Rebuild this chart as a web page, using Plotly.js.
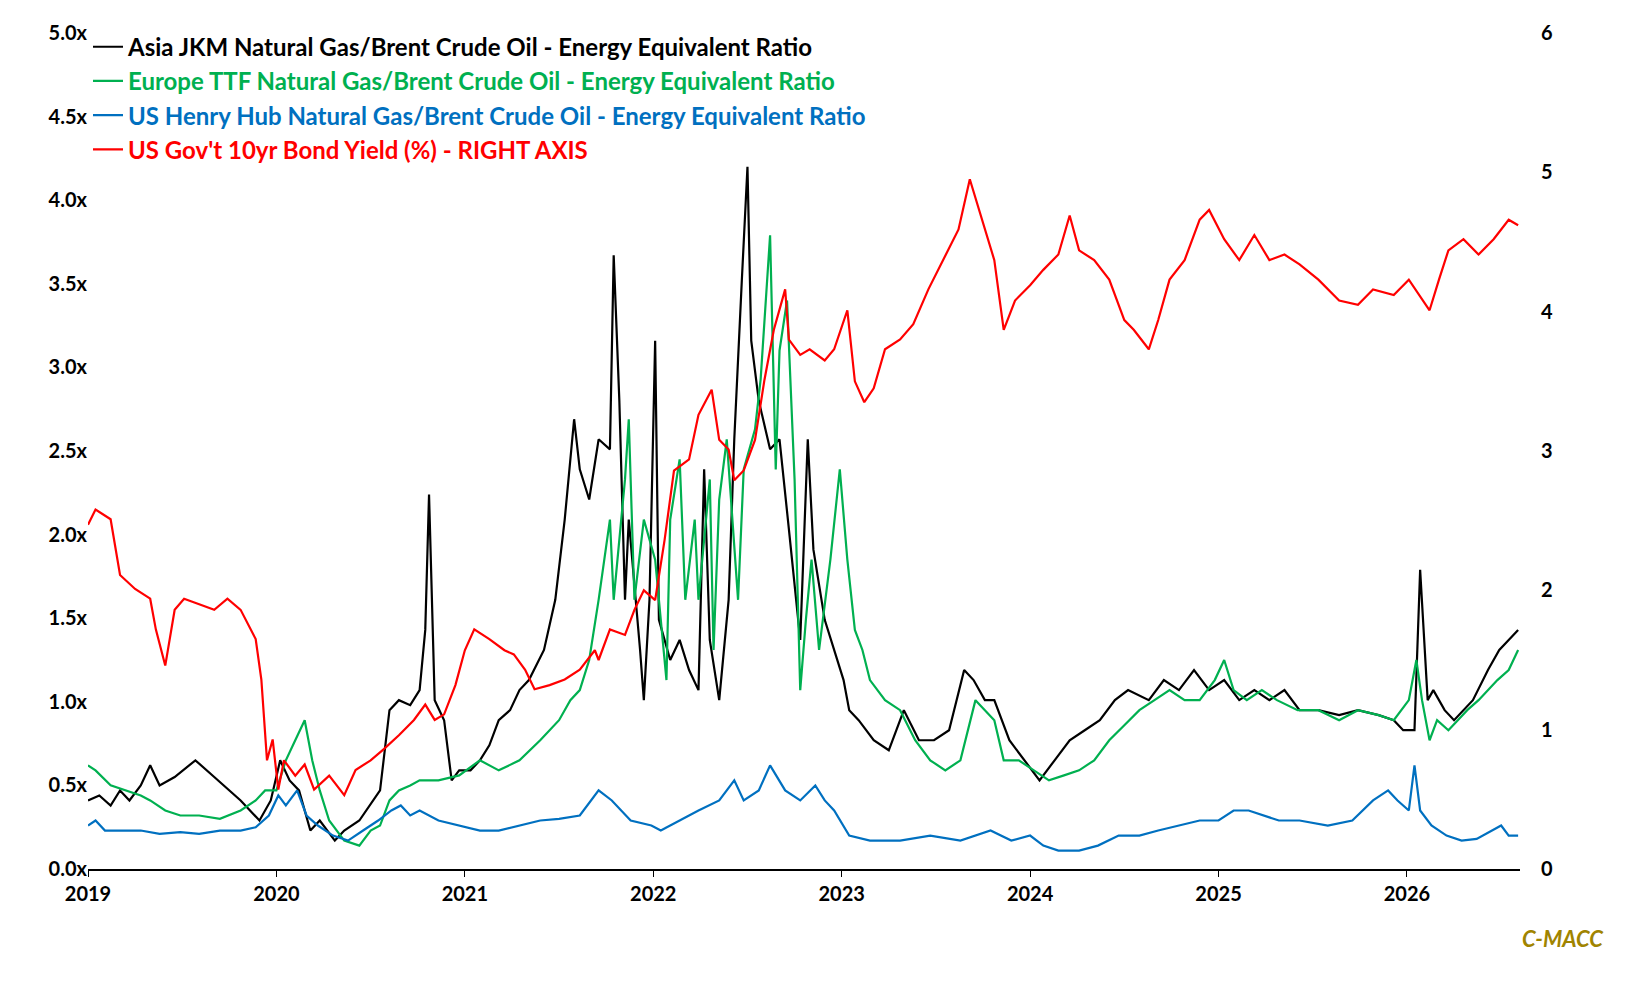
<!DOCTYPE html>
<html>
<head>
<meta charset="utf-8">
<script src="https://cdn.plot.ly/plotly-3.0.1.min.js"></script>
<style>body{margin:0;background:#fff}#chart{width:1642px;height:995px}</style>
</head>
<body>
<div id="chart"></div>
<script>
// decimal years and values
const jkmYears = [2019.00,2019.06,2019.12,2019.17,2019.22,2019.28,2019.33,2019.38,2019.46,2019.57,2019.67,2019.81,2019.91,2019.97,2020.02,2020.07,2020.12,2020.18,2020.23,2020.31,2020.36,2020.44,2020.55,2020.60,2020.65,2020.71,2020.76,2020.79,2020.81,2020.84,2020.89,2020.93,2020.97,2021.03,2021.08,2021.13,2021.18,2021.24,2021.29,2021.34,2021.42,2021.48,2021.53,2021.58,2021.61,2021.66,2021.71,2021.77,2021.79,2021.82,2021.85,2021.87,2021.93,2021.95,2021.98,2022.01,2022.03,2022.09,2022.14,2022.19,2022.24,2022.27,2022.30,2022.35,2022.40,2022.43,2022.47,2022.50,2022.52,2022.56,2022.62,2022.67,2022.72,2022.78,2022.82,2022.85,2022.91,2022.96,2023.01,2023.04,2023.09,2023.17,2023.25,2023.33,2023.41,2023.49,2023.57,2023.65,2023.70,2023.76,2023.81,2023.89,2023.97,2024.05,2024.13,2024.21,2024.29,2024.37,2024.45,2024.52,2024.63,2024.71,2024.79,2024.87,2024.95,2025.03,2025.11,2025.19,2025.27,2025.35,2025.43,2025.53,2025.64,2025.74,2025.85,2025.93,2025.98,2026.04,2026.07,2026.11,2026.14,2026.20,2026.25,2026.30,2026.35,2026.43,2026.49,2026.54,2026.59];
const jkmVals = [.41,.44,.38,.47,.41,.50,.62,.50,.55,.65,.55,.41,.29,.41,.65,.53,.47,.23,.29,.17,.23,.29,.47,.95,1.01,.98,1.07,1.43,2.24,1.01,.89,.53,.59,.59,.65,.74,.89,.95,1.07,1.13,1.31,1.61,2.09,2.69,2.39,2.21,2.57,2.51,3.67,2.80,1.61,2.09,1.31,1.01,1.61,3.16,1.49,1.25,1.37,1.19,1.07,2.39,1.37,1.01,1.61,2.57,3.52,4.20,3.16,2.80,2.51,2.57,2.03,1.37,2.57,1.91,1.49,1.31,1.13,.95,.89,.77,.71,.95,.77,.77,.83,1.19,1.13,1.01,1.01,.77,.65,.53,.65,.77,.83,.89,1.01,1.07,1.01,1.13,1.07,1.19,1.07,1.13,1.01,1.07,1.01,1.07,.95,.95,.92,.95,.92,.89,.83,.83,1.79,1.01,1.07,.95,.89,.95,1.01,1.19,1.31,1.37,1.43];

const ttfYears = [2019.00,2019.04,2019.12,2019.20,2019.28,2019.33,2019.41,2019.49,2019.59,2019.70,2019.81,2019.89,2019.94,2020.00,2020.05,2020.10,2020.15,2020.19,2020.23,2020.28,2020.36,2020.44,2020.50,2020.55,2020.60,2020.65,2020.71,2020.76,2020.86,2020.97,2021.08,2021.18,2021.29,2021.40,2021.50,2021.56,2021.61,2021.66,2021.71,2021.77,2021.79,2021.85,2021.87,2021.90,2021.95,2022.01,2022.04,2022.07,2022.09,2022.14,2022.17,2022.22,2022.24,2022.30,2022.32,2022.35,2022.39,2022.45,2022.48,2022.54,2022.57,2022.62,2022.65,2022.67,2022.71,2022.75,2022.78,2022.81,2022.84,2022.88,2022.94,2022.99,2023.03,2023.07,2023.11,2023.15,2023.23,2023.31,2023.39,2023.47,2023.55,2023.63,2023.71,2023.76,2023.81,2023.86,2023.94,2024.02,2024.10,2024.18,2024.26,2024.34,2024.42,2024.50,2024.58,2024.66,2024.74,2024.82,2024.90,2024.98,2025.03,2025.08,2025.15,2025.23,2025.31,2025.42,2025.53,2025.64,2025.74,2025.85,2025.93,2026.01,2026.05,2026.08,2026.12,2026.16,2026.22,2026.27,2026.32,2026.38,2026.43,2026.48,2026.54,2026.59];
const ttfVals = [.62,.59,.50,.47,.44,.41,.35,.32,.32,.30,.35,.41,.47,.47,.65,.77,.89,.65,.47,.29,.17,.14,.23,.26,.41,.47,.50,.53,.53,.56,.65,.59,.65,.77,.89,1.01,1.07,1.25,1.61,2.09,1.61,2.33,2.69,1.61,2.09,1.85,1.49,1.13,2.09,2.45,1.61,2.09,1.61,2.33,1.31,2.21,2.57,1.61,2.39,2.63,2.93,3.79,2.39,3.10,3.40,2.33,1.07,1.49,1.85,1.31,1.85,2.39,1.85,1.43,1.31,1.13,1.01,.95,.77,.65,.59,.65,1.01,.95,.89,.65,.65,.59,.53,.56,.59,.65,.77,.86,.95,1.01,1.07,1.01,1.01,1.13,1.25,1.07,1.01,1.07,1.01,.95,.95,.89,.95,.92,.89,1.01,1.25,1.01,.77,.89,.83,.89,.95,1.01,1.07,1.13,1.19,1.31];

const hhYears = [2019.00,2019.04,2019.09,2019.17,2019.28,2019.38,2019.49,2019.59,2019.70,2019.81,2019.89,2019.96,2020.01,2020.05,2020.11,2020.16,2020.22,2020.30,2020.38,2020.46,2020.54,2020.61,2020.66,2020.71,2020.76,2020.86,2020.97,2021.08,2021.18,2021.29,2021.40,2021.50,2021.61,2021.71,2021.78,2021.88,2021.99,2022.04,2022.14,2022.24,2022.35,2022.43,2022.48,2022.56,2022.62,2022.70,2022.78,2022.86,2022.91,2022.96,2023.04,2023.15,2023.31,2023.47,2023.63,2023.79,2023.90,2024.00,2024.07,2024.15,2024.26,2024.36,2024.47,2024.58,2024.68,2024.79,2024.90,2025.00,2025.08,2025.16,2025.24,2025.32,2025.43,2025.58,2025.71,2025.82,2025.90,2025.95,2026.01,2026.04,2026.07,2026.13,2026.21,2026.29,2026.37,2026.45,2026.50,2026.54,2026.59];
const hhVals = [.26,.29,.23,.23,.23,.21,.22,.21,.23,.23,.25,.32,.44,.38,.47,.32,.26,.20,.17,.23,.29,.35,.38,.32,.35,.29,.26,.23,.23,.26,.29,.30,.32,.47,.41,.29,.26,.23,.29,.35,.41,.53,.41,.47,.62,.47,.41,.50,.41,.35,.20,.17,.17,.20,.17,.23,.17,.20,.14,.11,.11,.14,.20,.20,.23,.26,.29,.29,.35,.35,.32,.29,.29,.26,.29,.41,.47,.41,.35,.62,.35,.26,.20,.17,.18,.23,.26,.20,.20];

const ustYears = [2019.00,2019.04,2019.12,2019.17,2019.25,2019.33,2019.36,2019.41,2019.46,2019.51,2019.59,2019.67,2019.74,2019.81,2019.89,2019.92,2019.95,2019.98,2020.01,2020.04,2020.10,2020.15,2020.20,2020.28,2020.36,2020.42,2020.50,2020.57,2020.65,2020.73,2020.79,2020.84,2020.89,2020.95,2021.00,2021.05,2021.13,2021.21,2021.26,2021.32,2021.37,2021.45,2021.53,2021.61,2021.69,2021.71,2021.77,2021.85,2021.90,2021.95,2022.01,2022.06,2022.11,2022.19,2022.24,2022.31,2022.35,2022.40,2022.43,2022.48,2022.54,2022.59,2022.64,2022.70,2022.72,2022.78,2022.83,2022.91,2022.96,2023.03,2023.07,2023.12,2023.17,2023.23,2023.31,2023.38,2023.46,2023.54,2023.62,2023.68,2023.76,2023.81,2023.86,2023.92,2024.00,2024.07,2024.15,2024.21,2024.26,2024.34,2024.42,2024.50,2024.55,2024.63,2024.68,2024.74,2024.82,2024.90,2024.95,2025.03,2025.11,2025.19,2025.27,2025.35,2025.43,2025.53,2025.64,2025.74,2025.82,2025.93,2026.01,2026.12,2026.17,2026.22,2026.30,2026.38,2026.46,2026.54,2026.59];
const ustVals = [2.47,2.58,2.51,2.11,2.01,1.94,1.72,1.46,1.86,1.94,1.90,1.86,1.94,1.86,1.65,1.36,0.78,0.93,0.57,0.78,0.67,0.75,0.57,0.67,0.53,0.71,0.78,0.86,0.96,1.07,1.18,1.07,1.11,1.32,1.57,1.72,1.65,1.57,1.54,1.43,1.29,1.32,1.36,1.43,1.57,1.50,1.72,1.68,1.86,2.00,1.93,2.36,2.86,2.94,3.26,3.44,3.08,3.01,2.79,2.86,3.08,3.51,3.87,4.16,3.80,3.69,3.73,3.65,3.73,4.01,3.50,3.35,3.45,3.73,3.80,3.91,4.16,4.37,4.59,4.95,4.59,4.37,3.87,4.08,4.19,4.30,4.41,4.69,4.44,4.37,4.23,3.94,3.87,3.73,3.94,4.23,4.37,4.66,4.73,4.52,4.37,4.55,4.37,4.41,4.34,4.23,4.08,4.05,4.16,4.12,4.23,4.01,4.23,4.44,4.52,4.41,4.52,4.66,4.62];

const years = [2019,2020,2021,2022,2023,2024,2025,2026];

const fontFam = "Lato, 'Liberation Sans', sans-serif";
const tickFont = {size: 20, family: fontFam, weight: "bold", color: "#000"};

function label(text, color) {
    return `<span style="color:${color}"><b>${text}</b></span>`;
}

const traces = [
    {x: jkmYears, y: jkmVals, type: "scatter", mode: "lines", line: {color: "#000000", width: 2.2},
     name: label("Asia JKM Natural Gas/Brent Crude Oil - Energy Equivalent Ratio", "#000000")},
    {x: ttfYears, y: ttfVals, type: "scatter", mode: "lines", line: {color: "#00b050", width: 2.2},
     name: label("Europe TTF Natural Gas/Brent Crude Oil - Energy Equivalent Ratio", "#00b050")},
    {x: hhYears, y: hhVals, type: "scatter", mode: "lines", line: {color: "#0070c0", width: 2.2},
     name: label("US Henry Hub Natural Gas/Brent Crude Oil - Energy Equivalent Ratio", "#0070c0")},
    {x: ustYears, y: ustVals, type: "scatter", mode: "lines", line: {color: "#ff0000", width: 2.2}, yaxis: "y2",
     name: label("US Gov't 10yr Bond Yield (%) - RIGHT AXIS", "#ff0000")}
];

const layout = {
    width: 1642, height: 995,
    margin: {l: 88, r: 122, t: 33, b: 126},
    paper_bgcolor: "#ffffff", plot_bgcolor: "#ffffff",
    font: {family: fontFam, size: 18, color: "#000"},
    showlegend: true,
    legend: {x: 0.0, y: 1.01, xanchor: "left", yanchor: "top", bgcolor: "rgba(0,0,0,0)",
             font: {size: 24, family: fontFam}, itemwidth: 30, tracegroupgap: 0},
    xaxis: {range: [2019, 2026.6], tickvals: years, ticktext: years.map(String),
            showgrid: false, zeroline: false, showline: true, linecolor: "#000", linewidth: 1.5,
            ticks: "outside", ticklen: 6, tickcolor: "#000", tickfont: tickFont},
    yaxis: {range: [0, 5], dtick: 0.5, tickformat: ".1f", ticksuffix: "x", showgrid: false,
            zeroline: false, showline: false, ticks: "", tickfont: tickFont},
    yaxis2: {range: [0, 6], dtick: 1, overlaying: "y", side: "right", showgrid: false,
             zeroline: false, showline: false, ticks: "", tickfont: tickFont, ticklabelstandoff: 20},
    annotations: [{text: "<b><i>C-MACC</i></b>", xref: "paper", yref: "paper", x: 1.06, y: -0.065,
                   xanchor: "right", yanchor: "top", showarrow: false,
                   font: {size: 22, color: "#a08400", family: fontFam}}]
};

Plotly.newPlot("chart", traces, layout, {displayModeBar: false});
</script>
</body>
</html>
